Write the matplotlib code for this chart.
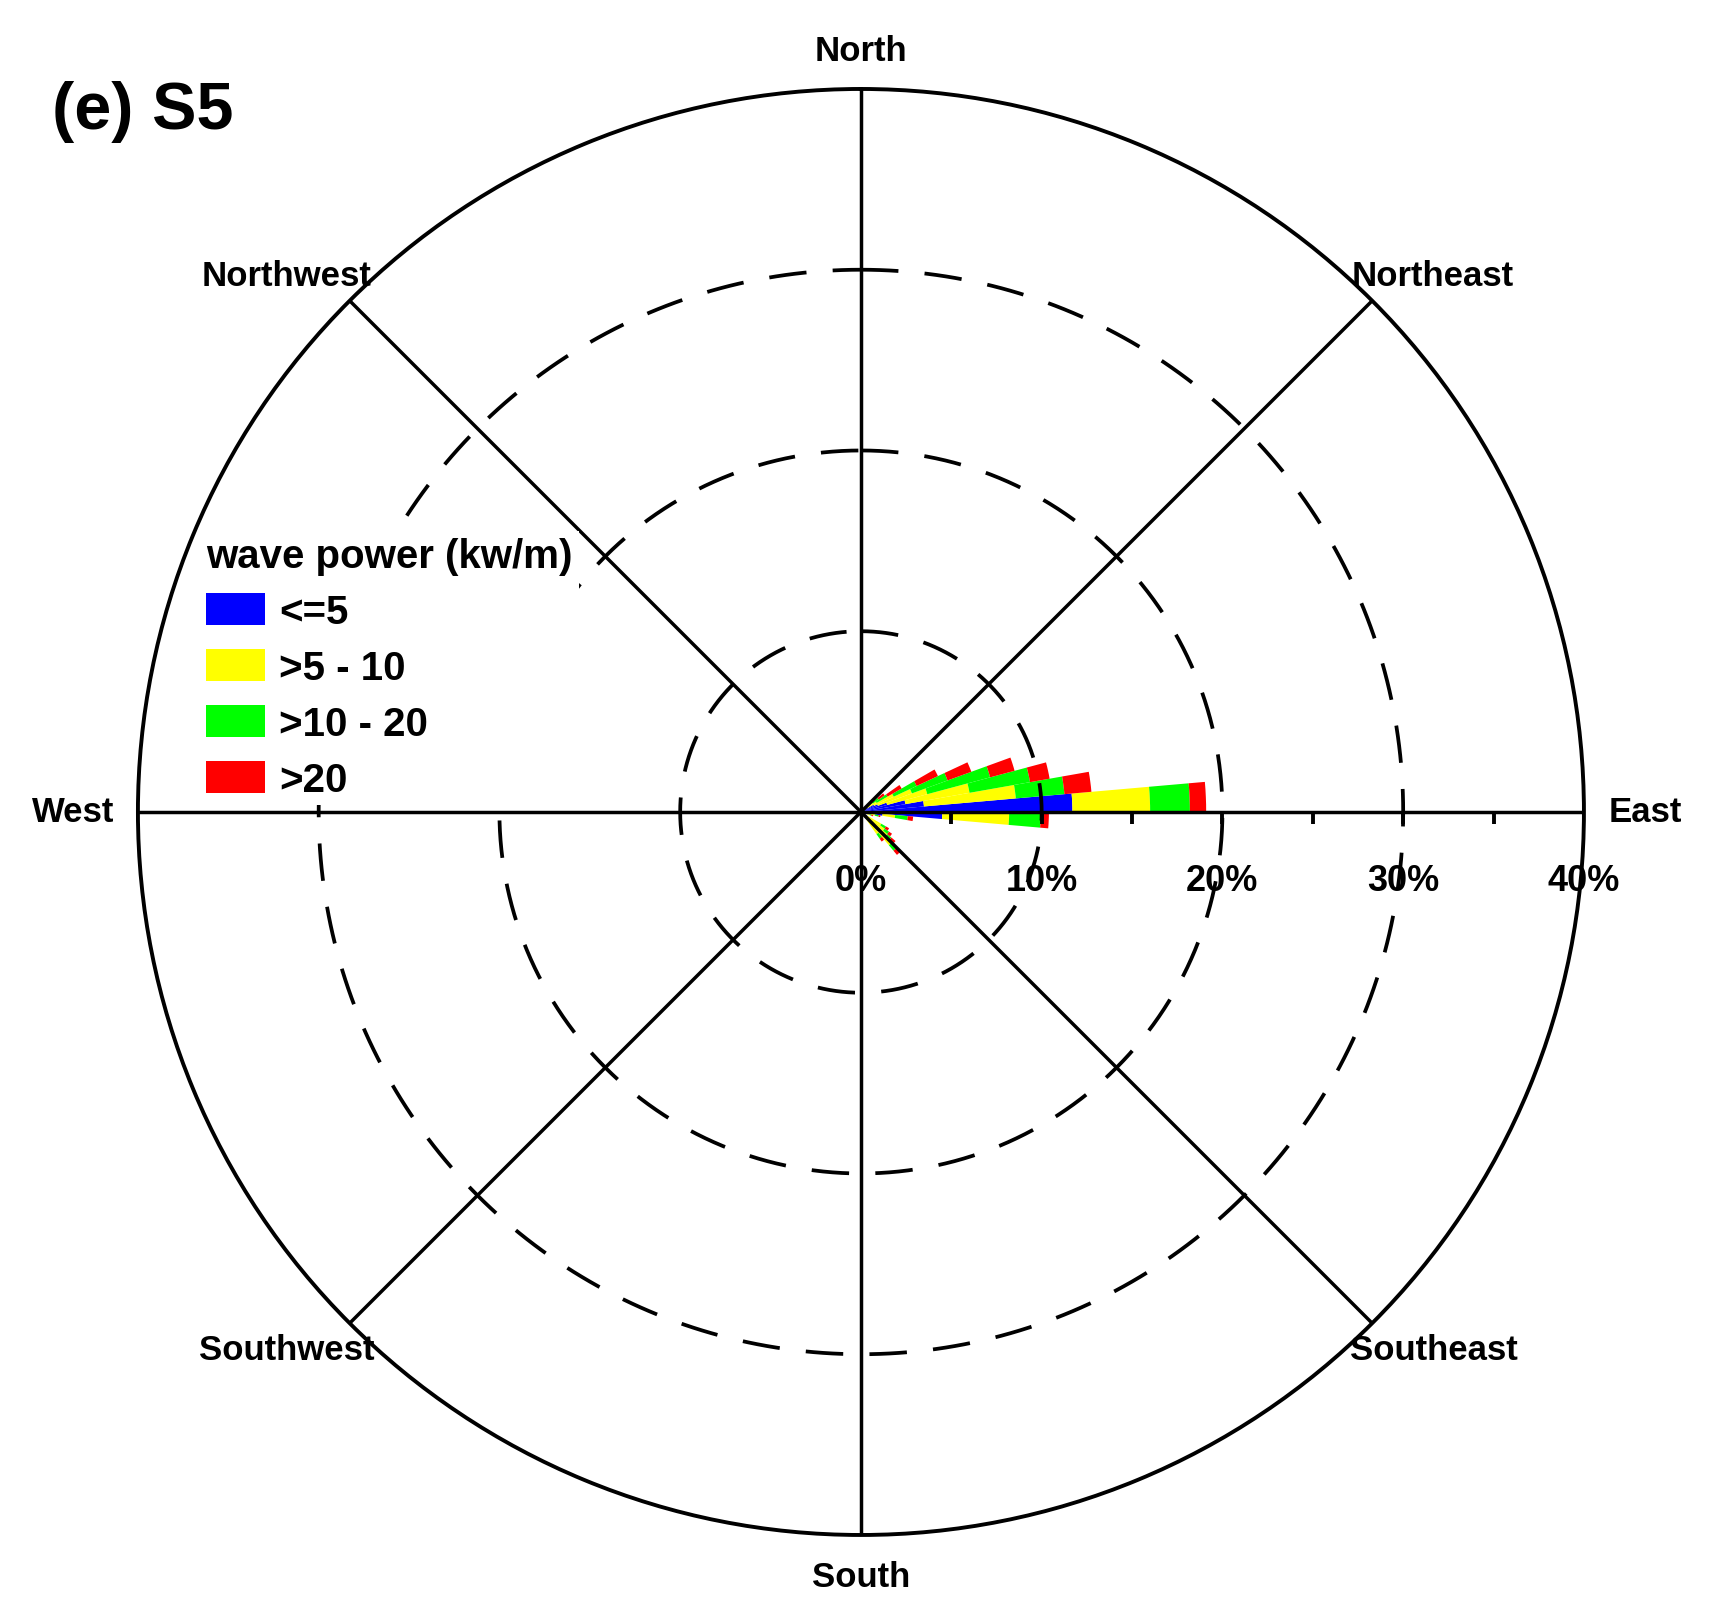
import numpy as np
import matplotlib
matplotlib.use("Agg")
import matplotlib.pyplot as plt

plt.rcParams['font.family'] = ['Liberation Sans', 'DejaVu Sans']
plt.rcParams['font.weight'] = 'bold'

# petal directions (compass degrees, sector centre, 5 degree sectors)
directions = [47.5, 52.5, 57.5, 62.5, 67.5, 72.5, 77.5, 82.5, 87.5,
              92.5, 97.5, 102.5, 107.5, 122.5, 127.5, 132.5, 137.5, 142.5]

# frequency (%) of each wave power class per direction
p_le5 = [0.2, 0.3, 0.4, 0.8, 1.0, 1.5, 2.5, 3.5, 11.7,
         4.5, 1.2, 0.5, 0.3, 0.4, 0.5, 0.7, 0.9, 0.5]
p_5_10 = [0.3, 0.5, 0.6, 1.2, 2.0, 2.3, 3.6, 5.1, 4.3,
          3.7, 0.7, 0.3, 0.2, 0.9, 1.1, 1.2, 1.5, 1.0]
p_10_20 = [0.3, 0.4, 0.7, 1.4, 2.1, 3.6, 3.4, 2.7, 2.2,
           1.75, 0.7, 0.2, 0.1, 0.3, 0.3, 0.3, 0.4, 0.3]
p_gt20 = [0.2, 0.4, 0.9, 1.3, 1.4, 1.4, 1.1, 1.5, 0.9,
          0.45, 0.3, 0.1, 0.1, 0.2, 0.2, 0.3, 0.3, 0.2]

classes = ['<=5', '>5 - 10', '>10 - 20', '>20']
colors = ['#0000ff', '#ffff00', '#00ff00', '#ff0000']

rings = [10, 20, 30]
rmax = 40
compass = ['North', 'Northeast', 'East', 'Southeast',
           'South', 'Southwest', 'West', 'Northwest']

fig = plt.figure(figsize=(17.15, 16.24), dpi=100)
ax = fig.add_axes([0.0804, 0.0542, 0.8432, 0.8904], projection='polar')
ax.set_theta_zero_location('N')
ax.set_theta_direction(-1)
ax.set_ylim(0, rmax)
ax.grid(False)
ax.set_xticks([])
ax.set_yticks([])
ax.spines['polar'].set_linewidth(2.8)

theta = np.deg2rad(directions)
width = np.deg2rad(5)
bottom = np.zeros(len(directions))
bars = []
for vals, col, lab in zip([p_le5, p_5_10, p_10_20, p_gt20], colors, classes):
    b = ax.bar(theta, vals, width=width, bottom=bottom, color=col,
               edgecolor='none', linewidth=0, label=lab, zorder=2)
    bars.append(b)
    bottom = bottom + np.array(vals)

# dashed rings
circ = np.linspace(0, 2 * np.pi, 721)
for r in rings:
    ax.plot(circ, np.full_like(circ, r), color='k', lw=2.7,
            linestyle=(0, (10, 7)), zorder=3)

# radial lines
for i in range(8):
    a = np.deg2rad(45 * i)
    ax.plot([a, a], [0, rmax], color='k', lw=2.5, zorder=3)

# ticks and percentage labels on the east axis
tick_r = np.arange(5, rmax + 1, 5)
ax.plot(np.full(len(tick_r), np.pi / 2), tick_r, ls='none', marker=3,
        ms=8.6, mew=2.8, color='k', zorder=3)
for r in range(0, rmax + 1, 10):
    ax.annotate(f'{r}%', xy=(np.pi / 2, r), xytext=(0, -49),
                textcoords='offset points', ha='center', va='center',
                fontsize=26, fontweight='bold')

# compass labels
offsets = {
    'North': ((0, 28), 'center', 'center'),
    'Northeast': ((-15, 18), 'left', 'center'),
    'East': ((18, 0), 'left', 'center'),
    'Southeast': ((-16, -19), 'left', 'center'),
    'South': ((0, -30), 'center', 'center'),
    'Southwest': ((18, -19), 'right', 'center'),
    'West': ((-17, 0), 'right', 'center'),
    'Northwest': ((16, 18), 'right', 'center'),
}
for i, name in enumerate(compass):
    off, ha, va = offsets[name]
    ax.annotate(name, xy=(np.deg2rad(45 * i), rmax), xytext=off,
                textcoords='offset points', ha=ha, va=va,
                fontsize=25, fontweight='bold', annotation_clip=False)

# legend sits on a white box that hides the rings behind it
leg = ax.legend(handles=bars, labels=classes, title='wave power (kw/m)',
                loc='upper left', bbox_to_anchor=(200 / 1715, 1 - 532 / 1624),
                bbox_transform=fig.transFigure, frameon=True, fancybox=False,
                facecolor='white', edgecolor='none', framealpha=1,
                fontsize=29,
                title_fontproperties={'weight': 'bold', 'size': 29},
                alignment='left', handlelength=1.46, handleheight=0.87,
                labelspacing=0.44, handletextpad=0.35, borderpad=0.15,
                borderaxespad=0)
leg.set_zorder(5)

fig.text(52 / 1715, 1 - 112 / 1624, '(e) S5', fontsize=48,
         fontweight='bold', ha='left', va='center')

fig.savefig('out.png', dpi=100, facecolor='white')
